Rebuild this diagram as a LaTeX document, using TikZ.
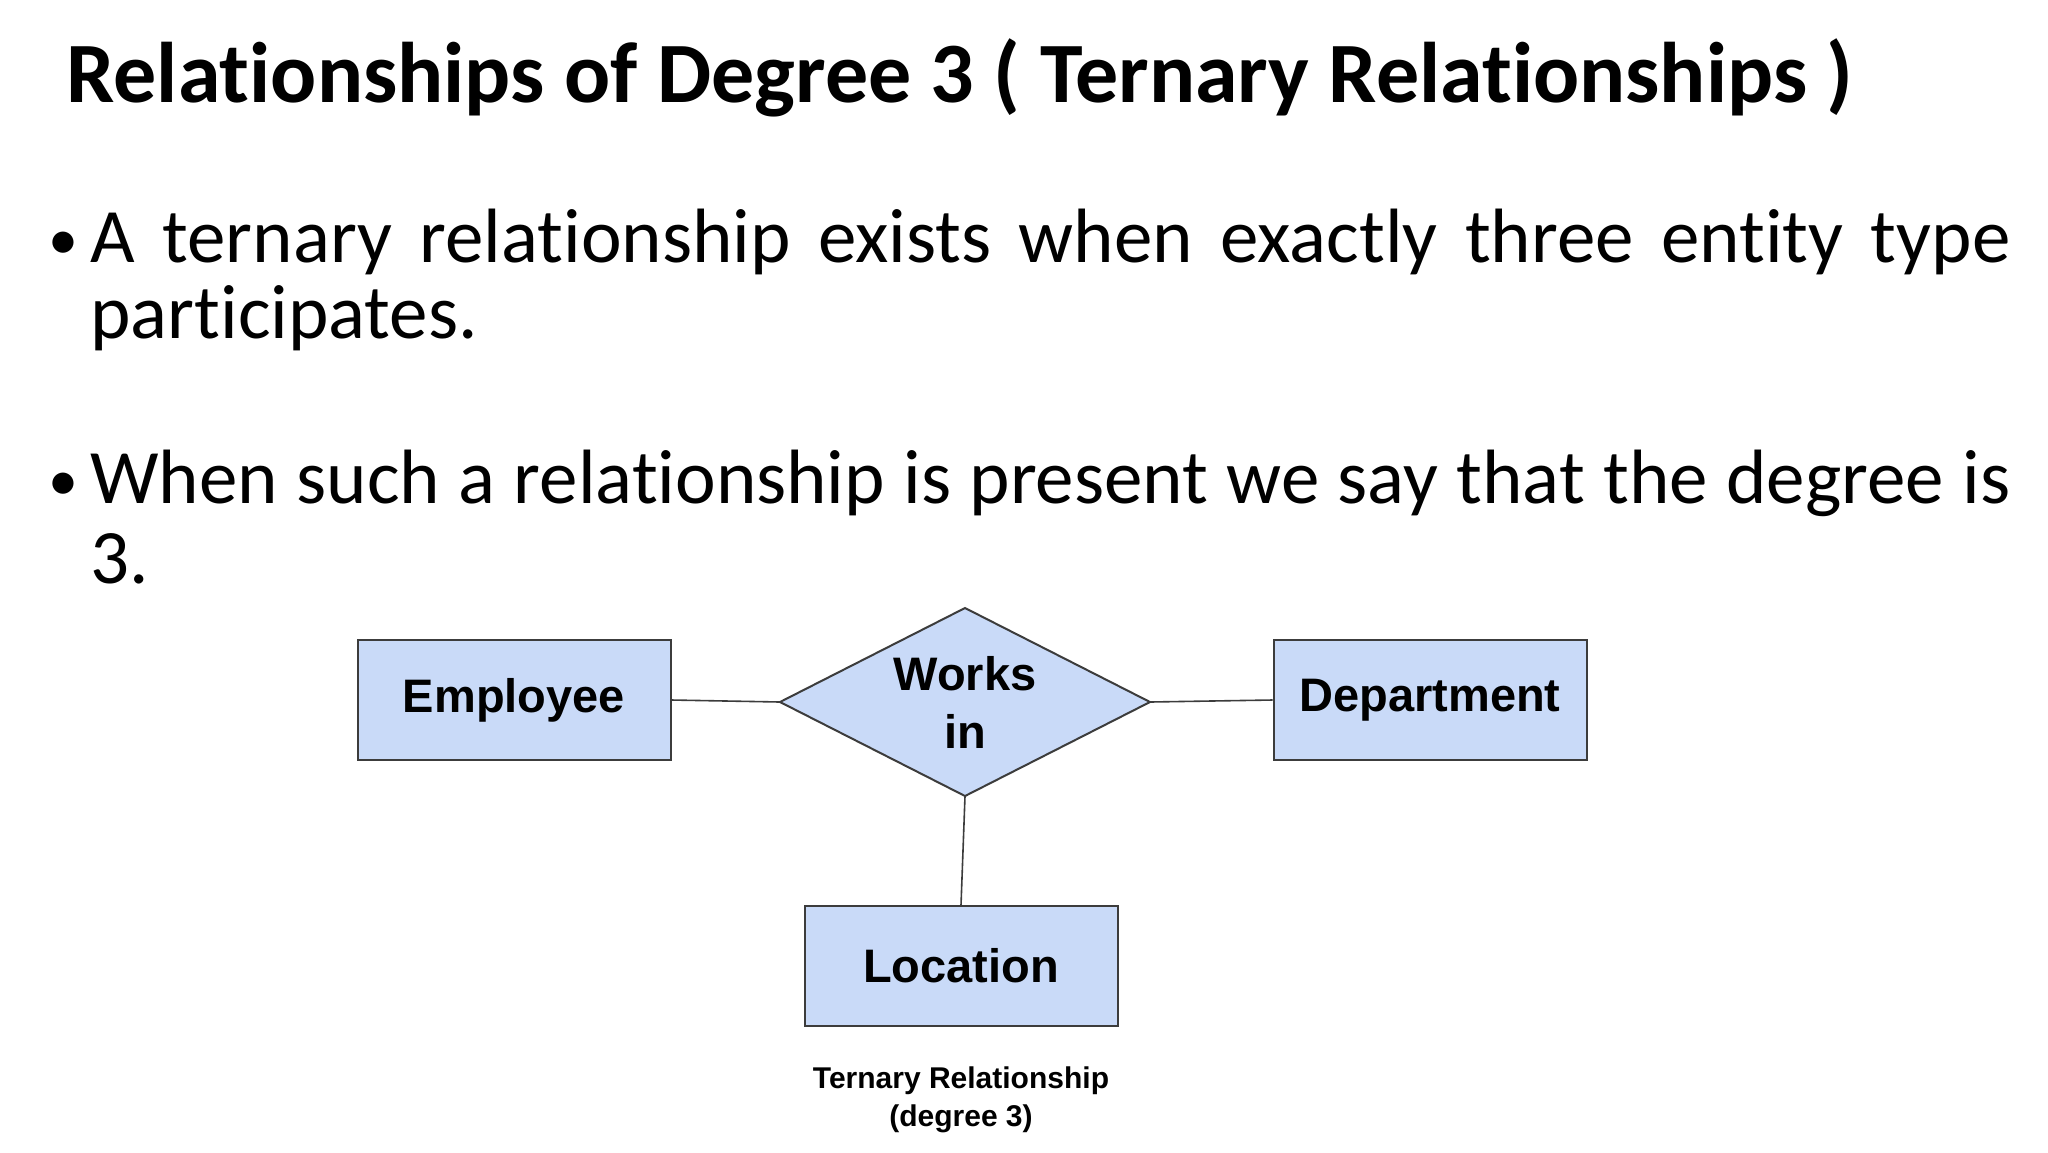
\documentclass[tikz,border=0pt]{standalone}
\usepackage{fontspec}
\setmainfont[Ligatures=NoCommon]{Carlito}
\newfontfamily\arialf{Liberation Sans}
\definecolor{erfill}{HTML}{C9DAF8}
\definecolor{erline}{HTML}{3C3C3C}
\tikzset{
 ent/.style={draw=erline,fill=erfill,line width=1pt,minimum width=156.5pt,minimum height=60pt,inner sep=0pt,font=\arialf\bfseries\fontsize{23.5}{28}\selectfont},
 rel/.style={draw=erline,fill=erfill,line width=1pt},
 reltext/.style={align=center,inner sep=0pt,font=\arialf\bfseries\fontsize{23.5}{29}\selectfont},
 conn/.style={draw=erline,line width=0.8pt},
 bul/.style={anchor=base west,inner sep=0pt,font=\fontsize{38.5}{46}\selectfont},
 dot/.style={anchor=base west,inner sep=0pt,font=\fontsize{30}{36}\selectfont},
}
\begin{document}
\begin{tikzpicture}[x=0.5pt,y=-0.5pt]
\useasboundingbox[fill=white] (0,0) rectangle (2048,1152);
\node[anchor=base west,inner sep=0pt,font=\bfseries\fontsize{43}{50}\selectfont] (title) at (66,102) {Relationships of Degree 3 ( Ternary Relationships )};
\node[dot] (b1) at (48,259) {•};
\node[bul] (l1) at (90,262) {\makebox[960pt][s]{A ternary relationship exists when exactly three entity type}};
\node[bul] (l2) at (90,338) {participates.};
\node[dot] (b2) at (48,500) {•};
\node[bul] (l3) at (90,503) {\makebox[960pt][s]{When such a relationship is present we say that the degree is}};
\node[bul] (l4) at (90,583) {3.};
\node[ent] (emp) at (514,700) {Employee};
\node[ent] (dep) at (1430,700) {Department};
\node[ent] (loc) at (961,966) {Location};
\coordinate (rw) at (780,702);
\coordinate (re) at (1150,702);
\coordinate (rn) at (965,608);
\coordinate (rs) at (965,796);
\draw[rel] (rw) -- (rn) -- (re) -- (rs) -- cycle;
\node[reltext] (rel) at (965,702) {Works\\in};
\draw[conn] (emp.east) -- (rw);
\draw[conn] (re) -- (dep.west);
\draw[conn] (rs) -- (loc.north);
\node[align=center,inner sep=0pt,font=\arialf\bfseries\fontsize{15}{19}\selectfont] (cap) at (961,1100) {Ternary Relationship\\(degree 3)};
\end{tikzpicture}
\end{document}
